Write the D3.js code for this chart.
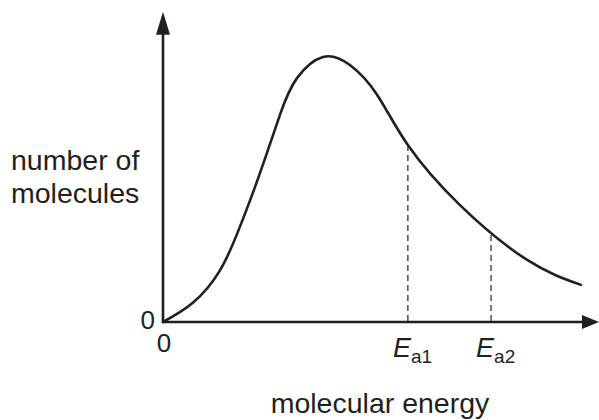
<!DOCTYPE html>
<html>
<head>
<meta charset="utf-8">
<script src="https://cdn.jsdelivr.net/npm/d3@7"></script>
<style>
  body { margin: 0; background: #fff; }
  svg text { font-family: "Liberation Sans", Arial, sans-serif; fill: #231f20; }
</style>
</head>
<body>
<div id="chart"></div>
<script>
// energy distribution curve (arbitrary units)
const energy = [0, 0.71, 1.36, 1.83, 2.31, 2.79, 3.19, 3.81, 4.45, 5.1, 5.83, 7.07, 8.67, 9.95];
const count = [0, 0.66, 1.79, 3.28, 5.14, 7.17, 8.41, 9.14, 8.86, 7.83, 6.1, 4.03, 2.14, 1.28];
const eaNames = ["a1", "a2"];
const eaValues = [5.83, 7.81];
const eaHeights = [6.1, 3.0];

const width = 599, height = 420;
const ink = "#231f20";

const svg = d3.select("#chart")
  .append("svg")
  .attr("width", width)
  .attr("height", height);

const x = d3.scaleLinear().domain([0, 10.38]).range([163, 599]);
const y = d3.scaleLinear().domain([0, 10.7]).range([322, 11.7]);

// axes with arrow heads
const [x0, x1] = x.range();
const [y0, y1] = y.range();
svg.append("line")
  .attr("x1", x0).attr("y1", y0).attr("x2", x1 - 10).attr("y2", y0)
  .attr("stroke", ink).attr("stroke-width", 2.6);
svg.append("line")
  .attr("x1", x0).attr("y1", y0 + 1.3).attr("x2", x0).attr("y2", y1 + 10)
  .attr("stroke", ink).attr("stroke-width", 2.6);
svg.append("path")
  .attr("d", `M${x1},${y0} L${x1 - 17},${y0 - 7} L${x1 - 17},${y0 + 7} Z`)
  .attr("fill", ink);
svg.append("path")
  .attr("d", `M${x0},${y1} L${x0 - 7},${y1 + 23} L${x0 + 7},${y1 + 23} Z`)
  .attr("fill", ink);

// dashed drops at the activation energies
svg.selectAll(".drop")
  .data(eaValues)
  .join("line")
  .attr("class", "drop")
  .attr("x1", d => x(d)).attr("x2", d => x(d))
  .attr("y1", (d, i) => y(eaHeights[i])).attr("y2", y0)
  .attr("stroke", "#333").attr("stroke-width", 1.3)
  .attr("stroke-dasharray", "6,4");

// the curve
const pts = energy.map((e, i) => [e, count[i]]);
svg.append("path")
  .datum(pts)
  .attr("fill", "none")
  .attr("stroke", ink)
  .attr("stroke-width", 2.6)
  .attr("stroke-linecap", "round")
  .attr("d", d3.line().x(d => x(d[0])).y(d => y(d[1])).curve(d3.curveNatural));

// zero labels
svg.append("text")
  .attr("x", x0 - 8).attr("y", y0 + 7)
  .attr("text-anchor", "end")
  .attr("font-size", 26)
  .text("0");
svg.append("text")
  .attr("x", x0 + 1).attr("y", y0 + 30)
  .attr("text-anchor", "middle")
  .attr("font-size", 26)
  .text("0");

// activation energy labels
const ea = svg.selectAll(".ea")
  .data(eaValues)
  .join("text")
  .attr("class", "ea")
  .attr("x", d => x(d) - 15)
  .attr("y", y0 + 35);
ea.append("tspan")
  .attr("font-size", 27)
  .attr("font-style", "italic")
  .text("E");
ea.append("tspan")
  .attr("font-size", 19)
  .attr("dy", 6)
  .text((d, i) => eaNames[i]);

// axis titles
const yTitle = svg.append("text")
  .attr("font-size", 28.5);
yTitle.append("tspan").attr("x", 11).attr("y", 170).text("number of");
yTitle.append("tspan").attr("x", 11).attr("y", 203).text("molecules");

svg.append("text")
  .attr("x", 380).attr("y", 413)
  .attr("text-anchor", "middle")
  .attr("font-size", 28.5)
  .text("molecular energy");
</script>
</body>
</html>
